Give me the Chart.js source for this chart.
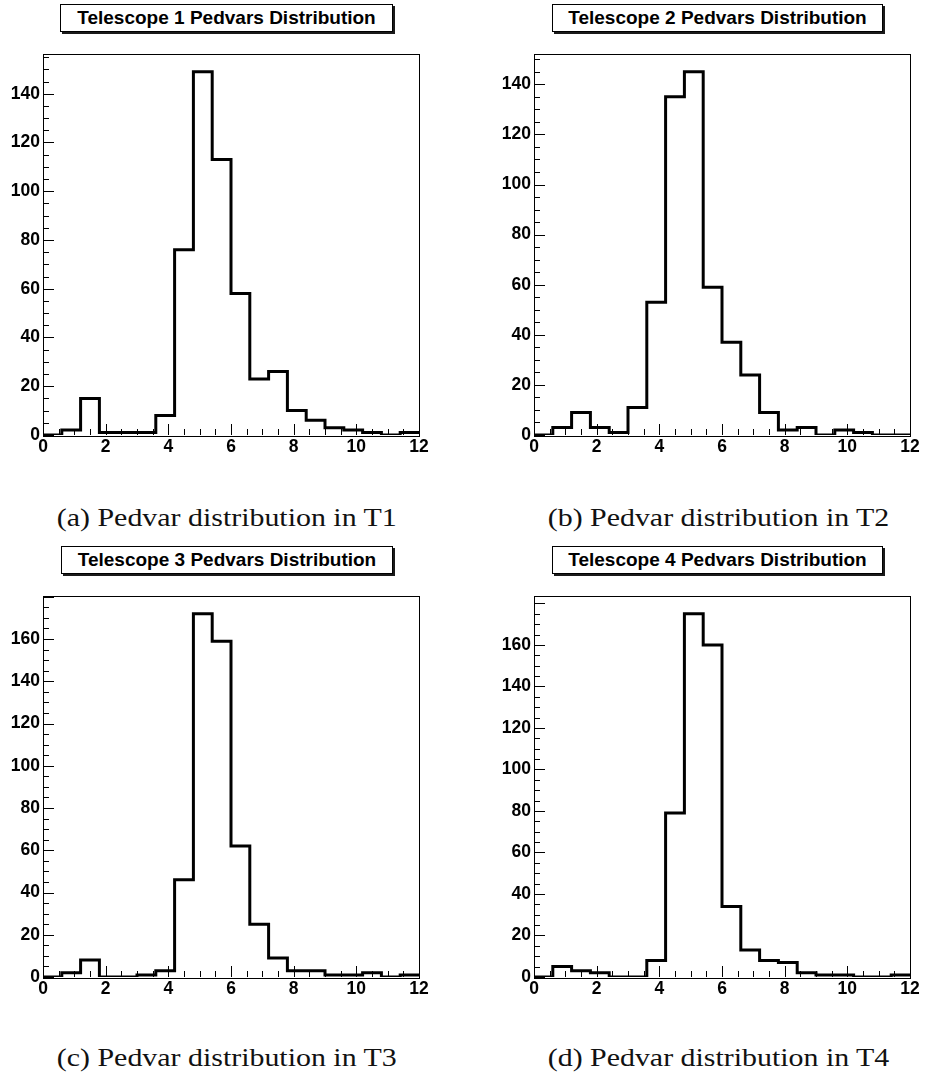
<!DOCTYPE html>
<html>
<head>
<meta charset="utf-8">
<script src="https://cdn.jsdelivr.net/npm/chart.js@4.4.1/dist/chart.umd.min.js"></script>
<style>
    html, body { margin: 0; padding: 0; background: #fff; }
    #page { position: relative; width: 925px; height: 1082px; overflow: hidden; background: #fff; }
    canvas { position: absolute; }
    .title-box {
        position: absolute; box-sizing: border-box; height: 28px;
        border: 1px solid #000; background: #fff; box-shadow: 2px 2px 0 #1a1a1a;
        font: bold 19px "Liberation Sans", Arial, sans-serif; color: #000;
        text-align: center; line-height: 26px; white-space: nowrap;
    }
    .caption {
        position: absolute; width: 454px; text-align: center;
        font: 26px "Liberation Serif", "Times New Roman", serif; color: #111;
        line-height: 26px; white-space: nowrap;
    }
    .caption span { display: inline-block; transform: scaleX(1.15); transform-origin: center; }
</style>
</head>
<body>
<div id="page">
    <div class="title-box" style="left:60px; top:4px; width:333px;">Telescope 1 Pedvars Distribution</div>
    <div class="title-box" style="left:552px; top:4px; width:331px;">Telescope 2 Pedvars Distribution</div>
    <div class="title-box" style="left:61px; top:546px; width:332px;">Telescope 3 Pedvars Distribution</div>
    <div class="title-box" style="left:552px; top:546px; width:331px;">Telescope 4 Pedvars Distribution</div>

    <canvas id="chartT1" width="434" height="430" style="left:0px; top:40px;"></canvas>
    <canvas id="chartT2" width="434" height="430" style="left:491px; top:40px;"></canvas>
    <canvas id="chartT3" width="434" height="430" style="left:0px; top:582px;"></canvas>
    <canvas id="chartT4" width="434" height="430" style="left:491px; top:582px;"></canvas>

    <div class="caption" style="left:0px; top:505px;"><span>(a) Pedvar distribution in T1</span></div>
    <div class="caption" style="left:492px; top:505px;"><span>(b) Pedvar distribution in T2</span></div>
    <div class="caption" style="left:0px; top:1045px;"><span>(c) Pedvar distribution in T3</span></div>
    <div class="caption" style="left:492px; top:1045px;"><span>(d) Pedvar distribution in T4</span></div>
</div>

<script>
    // bin edges of the pedvar histograms (20 bins of 0.6)
    const binEdges = [0, 0.6, 1.2, 1.8, 2.4, 3.0, 3.6, 4.2, 4.8, 5.4, 6.0,
                      6.6, 7.2, 7.8, 8.4, 9.0, 9.6, 10.2, 10.8, 11.4, 12.0];

    // counts per bin
    const countsT1 = [0, 2, 15, 1, 1, 1, 8, 76, 149, 113, 58, 23, 26, 10, 6, 3, 2, 1, 0, 1];
    const countsT2 = [0, 3, 9, 3, 1, 11, 53, 135, 145, 59, 37, 24, 9, 2, 3, 0, 2, 1, 0, 0];
    const countsT3 = [0, 2, 8, 0, 0, 1, 3, 46, 172, 159, 62, 25, 9, 3, 3, 1, 1, 2, 0, 1];
    const countsT4 = [0, 5, 3, 2, 0, 0, 8, 79, 175, 160, 34, 13, 8, 7, 2, 1, 1, 0, 0, 1];

    // y axis ranges (ROOT uses 1.05 * max)
    const yMaxT1 = 156.5;
    const yMaxT2 = 152.3;
    const yMaxT3 = 180.6;
    const yMaxT4 = 183.8;

    const xTickStep = 2;
    const yTickStep = 20;

    const tickFont = { family: "'Liberation Sans', Arial, sans-serif", size: 17.5, weight: 'bold' };

    // frame around the plot + ROOT style inward ticks
    const rootFrame = {
        id: 'rootFrame',
        afterDraw(chart) {
            const ctx = chart.ctx;
            const area = chart.chartArea;
            const xs = chart.scales.x;
            const ys = chart.scales.y;
            ctx.save();
            ctx.strokeStyle = '#000';
            ctx.lineWidth = 1;
            ctx.strokeRect(Math.round(area.left) + 0.5, Math.round(area.top) + 0.5,
                Math.round(area.right - area.left), Math.round(area.bottom - area.top));

            ctx.beginPath();
            for (let v = 0; v <= xs.max + 1e-9; v += 0.5) {
                const px = Math.round(xs.getPixelForValue(v)) + 0.5;
                const len = Math.abs(v % xTickStep) < 1e-9 ? 11 : 6;
                ctx.moveTo(px, area.bottom);
                ctx.lineTo(px, area.bottom - len);
            }
            for (let v = 0; v <= ys.max + 1e-9; v += 5) {
                const py = Math.round(ys.getPixelForValue(v)) + 0.5;
                const len = v % yTickStep === 0 ? 11 : 6;
                ctx.moveTo(area.left, py);
                ctx.lineTo(area.left + len, py);
            }
            ctx.stroke();
            ctx.restore();
        }
    };

    function drawHistogram(canvasId, counts, yMax) {
        const points = binEdges.map(function (x, i) {
            return { x: x, y: counts[Math.min(i, counts.length - 1)] };
        });

        return new Chart(document.getElementById(canvasId), {
            type: 'line',
            data: {
                datasets: [{
                    data: points,
                    stepped: true,
                    borderColor: '#000',
                    borderWidth: 3,
                    borderJoinStyle: 'miter',
                    borderCapStyle: 'butt',
                    pointRadius: 0,
                    fill: false
                }]
            },
            options: {
                responsive: false,
                animation: false,
                devicePixelRatio: 1,
                layout: { padding: { left: 0, top: 12, right: 15, bottom: 0 } },
                plugins: {
                    legend: { display: false },
                    title: { display: false },
                    tooltip: { enabled: false }
                },
                scales: {
                    x: {
                        type: 'linear',
                        min: 0,
                        max: 12,
                        grid: { display: false, drawTicks: false },
                        border: { display: false },
                        ticks: { stepSize: xTickStep, color: '#000', font: tickFont, padding: 2, maxRotation: 0 },
                        afterFit: function (scale) { scale.height = 35; }
                    },
                    y: {
                        type: 'linear',
                        min: 0,
                        max: yMax,
                        grid: { display: false, drawTicks: false },
                        border: { display: false },
                        ticks: { stepSize: yTickStep, color: '#000', font: tickFont, padding: 3 },
                        afterBuildTicks: function (scale) {
                            scale.ticks = scale.ticks.filter(function (t) { return t.value % yTickStep === 0; });
                        },
                        afterFit: function (scale) { scale.width = 43; }
                    }
                }
            },
            plugins: [rootFrame]
        });
    }

    drawHistogram('chartT1', countsT1, yMaxT1);
    drawHistogram('chartT2', countsT2, yMaxT2);
    drawHistogram('chartT3', countsT3, yMaxT3);
    drawHistogram('chartT4', countsT4, yMaxT4);
</script>
</body>
</html>
